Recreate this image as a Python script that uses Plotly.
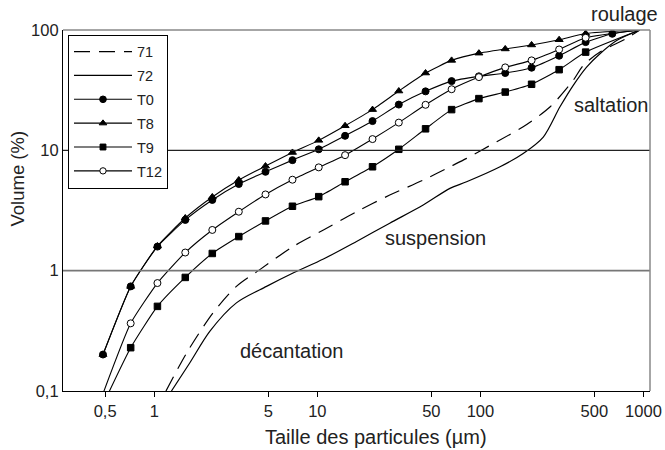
import math
import plotly.graph_objects as go

# Particle sizes (µm) at which the measured series are sampled
sizes = [0.485, 0.717, 1.046, 1.55, 2.27, 3.30, 4.81, 7.04, 10.2, 14.8, 21.8,
         31.6, 46.1, 66.6, 97.9, 142, 206, 304, 442, 644, 950]

# Cumulative volume (%) — None = no sample at that size
t0 = [0.201, 0.74, 1.585, 2.64, 3.87, 5.25, 6.63, 8.29, 10.2, 13.2, 17.5,
      24.0, 30.9, 37.6, 41.2, 43.9, 48.6, 61.1, 79.3, 93.0, 100]
t8 = [0.201, 0.74, 1.6, 2.74, 4.1, 5.67, 7.4, 9.6, 12.1, 16.0, 21.8,
      31.1, 43.9, 55.9, 64.2, 69.6, 75.1, 83.0, 93.5, None, 100]
t9 = [0.077, 0.229, 0.505, 0.879, 1.39, 1.92, 2.59, 3.43, 4.12, 5.48, 7.3,
      10.2, 15.1, 21.8, 26.9, 30.5, 35.4, 46.8, 65.5, None, 100]
t12 = [0.095, 0.365, 0.789, 1.415, 2.18, 3.09, 4.3, 5.7, 7.22, 9.12, 12.4,
       17.0, 23.9, 32.2, 40.6, 48.9, 55.9, 68.9, 86.2, None, 100]

# Reference curves 71 (dashed) and 72 (solid)
x71 = [1.18, 1.58, 2.29, 3.19, 4.44, 7.1, 10.9, 17.4, 27.8, 44.6, 65, 82.3,
       126, 183, 267, 371, 427, 541, 779, 950]
y71 = [0.1, 0.207, 0.445, 0.74, 1.02, 1.585, 2.18, 3.09, 4.25, 5.66, 7.3, 8.57,
       11.8, 15.7, 22.9, 38.2, 50.8, 65.5, 84.5, 100]
x72 = [1.275, 1.65, 2.19, 3.19, 4.88, 7.1, 10.9, 17.4, 27.8, 44.6, 65, 82.3,
       132, 183, 243, 307, 371, 448, 541, 685, 950]
y72 = [0.1, 0.171, 0.313, 0.54, 0.74, 0.955, 1.25, 1.75, 2.48, 3.51, 4.83, 5.48,
       7.3, 9.42, 12.9, 22.9, 34.7, 49.2, 63.5, 81.8, 100]

x_ticks = [0.5, 1, 5, 10, 50, 100, 500, 1000]
x_ticktext = ["0,5", "1", "5", "10", "50", "100", "500", "1000"]
y_ticks = [0.1, 1, 10, 100]
y_ticktext = ["0,1", "1", "10", "100"]

zones = ["saltation", "suspension", "décantation"]
zone_x = [641, 53.3, 6.98]
zone_y = [23.7, 1.87, 0.217]

FONT = "Liberation Sans, Arial, sans-serif"
INK = "black"
TXT = "#222"

fig = go.Figure()

fig.add_trace(go.Scatter(x=x71, y=y71, name="71", mode="lines", legendgroup="a",
                         line=dict(color=INK, width=1.2, dash="16px,9px",
                                   shape="spline", smoothing=0.8)))
fig.add_trace(go.Scatter(x=x72, y=y72, name="72", mode="lines", legendgroup="b",
                         line=dict(color=INK, width=1.2, shape="spline", smoothing=0.8)))

def series(name, ys, symbol, fill, grp, s=7):
    sz = [s] * len(ys)
    sz[-1] = 0
    if name in ("T9", "T12"):
        sz[0] = 0
    fig.add_trace(go.Scatter(
        x=sizes, y=ys, name=name, mode="lines+markers", connectgaps=True,
        legendgroup=grp,
        line=dict(color=INK, width=1.1, shape="spline", smoothing=0.5),
        marker=dict(symbol=symbol, size=sz, color=fill, opacity=1,
                    line=dict(color=INK, width=1))))

series("T0", t0, "circle", INK, "c")
series("T8", t8, "triangle-up", INK, "d")
series("T9", t9, "square", INK, "e", 6.5)
series("T12", t12, "circle", "white", "f")

# horizontal reference lines at 1 % and 10 %
fig.add_shape(type="line", xref="paper", x0=0, x1=1, yref="y", y0=10, y1=10,
              line=dict(color="#222", width=1.2))
fig.add_shape(type="line", xref="paper", x0=0, x1=1, yref="y", y0=1, y1=1,
              line=dict(color="#777", width=1.6))
# grey top / right frame
fig.add_shape(type="line", xref="paper", yref="paper", x0=0, x1=1, y0=1, y1=1,
              line=dict(color="#888", width=1.5))
fig.add_shape(type="line", xref="paper", yref="paper", x0=1, x1=1, y0=0, y1=1,
              line=dict(color="#888", width=1.5))

for t, xx, yy in zip(zones, zone_x, zone_y):
    fig.add_annotation(x=math.log10(xx), y=math.log10(yy), xref="x", yref="y",
                       text=t, showarrow=False,
                       font=dict(family=FONT, size=20, color=TXT))
fig.add_annotation(x=math.log10(760), y=1.043, xref="x", yref="paper",
                   yanchor="middle", text="roulage", showarrow=False,
                   font=dict(family=FONT, size=20, color=TXT))

# axis titles (placed as in the reference, slightly off-centre)
fig.add_annotation(x=0.533, y=-0.127, xref="paper", yref="paper",
                   xanchor="center", yanchor="middle", showarrow=False,
                   text="Taille des particules (µm)",
                   font=dict(family=FONT, size=20, color=TXT))
fig.add_annotation(x=-0.077, y=0.588, xref="paper", yref="paper",
                   xanchor="center", yanchor="middle", showarrow=False,
                   textangle=-90, text="Volume (%)",
                   font=dict(family=FONT, size=18.5, color=TXT))

fig.update_layout(
    width=665, height=450,
    margin=dict(l=63, r=15, t=29.5, b=58.5, autoexpand=False),
    paper_bgcolor="white", plot_bgcolor="white",
    font=dict(family=FONT, size=17, color=TXT),
    showlegend=True,
    legend=dict(x=0.0085, y=0.987, xanchor="left", yanchor="top",
                bordercolor=INK, borderwidth=1, bgcolor="white",
                font=dict(family=FONT, size=14.5, color=TXT),
                traceorder="grouped", tracegroupgap=2, itemwidth=58),
    xaxis=dict(type="log", range=[-0.5595, 3.04], tickvals=x_ticks,
               ticktext=x_ticktext, ticks="outside", ticklen=5, tickcolor=INK,
               showline=True, linecolor=INK, linewidth=1.2, showgrid=False,
               zeroline=False, tickfont=dict(size=16.5), automargin=False),
    yaxis=dict(type="log", range=[-1, 2], tickvals=y_ticks, ticktext=y_ticktext,
               ticks="", showline=True, linecolor=INK, linewidth=1.2,
               showgrid=False, zeroline=False, tickfont=dict(size=16.5),
               automargin=False),
)

fig.write_html("out.html",
               config={"displayModeBar": False},
               post_script="document.body.style.margin='0';"
                           "document.body.style.overflow='hidden';")
